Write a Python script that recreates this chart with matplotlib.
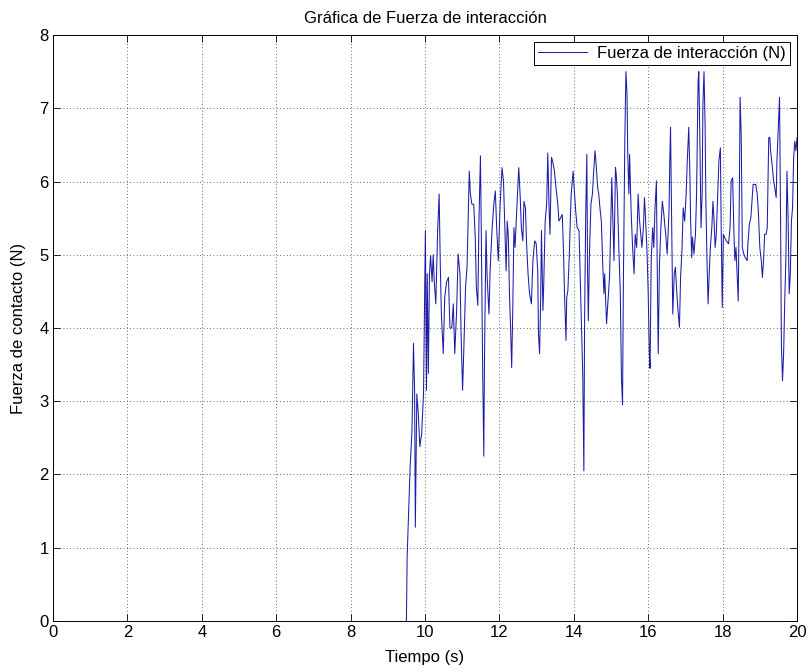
import matplotlib
matplotlib.use("Agg")
import matplotlib.pyplot as plt

plt.rcParams['font.family'] = ['Liberation Sans', 'DejaVu Sans']

# Interaction force samples: time (s) and force (N)
tiempo = [
    9.50, 9.52, 9.56, 9.60, 9.65, 9.69, 9.72, 9.74, 9.78, 9.82, 9.86, 9.91, 9.96, 9.98,
    10.01, 10.04, 10.06, 10.09, 10.12, 10.15, 10.19, 10.22, 10.25, 10.29, 10.34, 10.38,
    10.41, 10.44, 10.49, 10.53, 10.58, 10.63, 10.67,
    10.72, 10.76, 10.80, 10.85, 10.89, 10.94, 10.97, 11.01, 11.04, 11.09, 11.13, 11.16,
    11.19, 11.22, 11.26, 11.31, 11.35, 11.38, 11.42, 11.45, 11.49, 11.51, 11.55, 11.58,
    11.60, 11.64, 11.67, 11.72, 11.75, 11.80, 11.85, 11.89, 11.93, 11.97, 12.02, 12.07,
    12.11,
    12.15, 12.18, 12.21, 12.24, 12.27, 12.30, 12.33, 12.36, 12.39, 12.42, 12.46, 12.49,
    12.52, 12.56, 12.59, 12.63, 12.66, 12.70, 12.73, 12.77, 12.81, 12.86, 12.90, 12.95,
    12.99, 13.03, 13.05, 13.08, 13.11, 13.13, 13.17, 13.19, 13.23, 13.27, 13.30, 13.34,
    13.36, 13.40, 13.43, 13.48, 13.52, 13.57, 13.60,
    13.65, 13.69, 13.72, 13.75, 13.79, 13.81, 13.84, 13.88, 13.91, 13.93, 13.98, 14.05,
    14.09, 14.14, 14.18, 14.21, 14.24, 14.27, 14.29, 14.32, 14.35, 14.37, 14.39, 14.42,
    14.46, 14.50, 14.53, 14.57, 14.60, 14.64, 14.67, 14.71, 14.74, 14.78, 14.81, 14.83,
    14.86, 14.88, 14.92, 14.96, 14.99, 15.02, 15.04, 15.08, 15.12,
    15.14, 15.17, 15.21, 15.25, 15.28, 15.31, 15.33, 15.37, 15.40, 15.43, 15.45, 15.48,
    15.50, 15.54, 15.58, 15.62, 15.65, 15.69, 15.73, 15.76, 15.80, 15.83, 15.87, 15.90,
    15.94, 15.97, 16.00, 16.03, 16.05, 16.08, 16.12, 16.15, 16.18, 16.22, 16.25, 16.27,
    16.30, 16.34, 16.38, 16.42, 16.47, 16.51, 16.56, 16.58, 16.60,
    16.64, 16.66, 16.70, 16.73, 16.77, 16.80, 16.84, 16.87, 16.91, 16.94, 16.98, 17.02,
    17.05, 17.09, 17.12, 17.14, 17.17, 17.19, 17.23, 17.27, 17.30, 17.34, 17.36, 17.39,
    17.42, 17.45, 17.47, 17.50, 17.53, 17.55, 17.58, 17.61, 17.64, 17.67, 17.71, 17.74,
    17.77, 17.80, 17.83, 17.87, 17.90, 17.94, 17.96, 17.99, 18.02, 18.05, 18.10,
    18.16, 18.20, 18.23, 18.27, 18.30, 18.33, 18.36, 18.39, 18.42, 18.45, 18.47, 18.50,
    18.53, 18.57, 18.61, 18.66, 18.68, 18.72, 18.76, 18.79, 18.82, 18.86, 18.89, 18.93,
    18.96, 19.00, 19.04, 19.07, 19.10, 19.13, 19.17, 19.20, 19.24, 19.27, 19.29, 19.33,
    19.37, 19.40, 19.44, 19.46, 19.50, 19.53, 19.56, 19.58, 19.61, 19.64, 19.67, 19.70,
    19.73, 19.76, 19.79, 19.82, 19.85, 19.88, 19.91, 19.94, 19.97, 20.00,
]

fuerza = [
    0.00, 0.88, 1.47, 2.10, 2.60, 3.79, 3.15, 1.28, 3.10, 2.83, 2.38, 2.56, 3.10, 3.96,
    5.33, 3.15, 4.74, 3.38, 4.74, 4.99, 4.63, 5.00, 4.63, 4.33, 5.33, 5.83,
    4.88, 4.19, 3.65, 4.42, 4.63, 4.69, 4.00,
    4.00, 4.33, 3.65, 4.24, 5.01, 4.74, 3.92, 3.15, 3.65, 4.56, 4.83, 5.46,
    6.14, 5.83, 5.69, 5.69, 5.24, 4.56, 4.31, 5.46, 6.35, 5.46, 3.42, 2.25,
    3.65, 5.33, 4.69, 4.19, 4.78, 5.33, 5.69, 5.87, 5.33, 4.92, 5.69, 6.19,
    6.00,
    5.33, 4.78, 5.46, 5.24, 4.47, 4.01, 3.46, 4.28, 5.37, 5.10, 5.55, 5.87,
    6.19, 5.78, 5.37, 5.19, 5.73, 5.64, 5.15, 4.74, 4.47, 4.33, 4.92, 5.19,
    5.15, 4.78, 3.92, 3.65, 4.42, 5.33, 4.24, 4.56, 5.46, 5.69, 6.39, 5.55,
    5.28, 6.33, 6.28, 6.14, 5.92, 5.69, 5.46,
    5.51, 5.55, 5.10, 4.47, 3.83, 4.42, 4.51, 5.01, 5.55, 5.83, 6.14, 5.60,
    5.37, 5.33, 4.56, 4.01, 3.37, 2.05, 4.10, 5.55, 6.37, 4.78, 4.10, 5.01,
    5.69, 5.83, 6.10, 6.42, 6.24, 5.92, 5.83, 5.60, 5.46, 4.83, 4.47, 4.74,
    4.33, 4.06, 4.37, 4.69, 5.33, 6.05, 5.69, 4.92, 6.19,
    6.10, 5.83, 5.10, 4.47, 3.33, 2.95, 4.47, 6.51, 7.50, 7.20, 6.37, 5.83,
    6.37, 5.60, 5.10, 4.74, 5.28, 5.10, 5.83, 5.51, 5.28, 5.10, 5.37, 5.78,
    5.37, 5.01, 4.47, 3.65, 3.45, 4.92, 5.37, 5.10, 5.60, 6.01, 4.47, 3.65,
    4.83, 5.37, 5.73, 5.55, 5.28, 5.01, 5.60, 6.28, 6.74,
    5.01, 4.19, 4.74, 4.83, 4.47, 4.24, 4.01, 4.69, 5.10, 5.64, 5.46, 5.83,
    6.28, 6.74, 6.10, 5.46, 4.96, 5.24, 5.01, 5.28, 5.83, 7.37, 7.50, 6.51,
    5.37, 5.83, 7.05, 7.50, 6.74, 5.73, 4.92, 4.33, 4.74, 5.10, 5.37, 5.73,
    5.46, 5.10, 5.28, 5.83, 6.28, 6.46, 5.46, 4.28, 5.28, 5.24, 5.19,
    5.15, 5.37, 6.01, 6.05, 5.37, 4.92, 5.10, 4.74, 4.37, 5.83, 7.15, 6.64,
    5.10, 5.01, 4.96, 4.92, 5.15, 5.42, 5.51, 5.73, 5.96, 5.96, 5.96, 5.83,
    5.60, 5.10, 4.92, 4.69, 4.92, 5.28, 5.28, 5.37, 6.60, 6.60, 6.42, 6.23,
    6.01, 5.92, 5.78, 6.28, 6.78, 7.15, 5.37, 3.78, 3.28, 3.65, 4.37, 4.92,
    6.14, 5.51, 4.47, 4.74, 5.46, 5.64, 6.33, 6.55, 6.42, 6.60,
]

x_ticks = list(range(0, 21, 2))
y_ticks = list(range(0, 9, 1))

fig = plt.figure(figsize=(8.08, 6.72), dpi=100)
ax = fig.add_axes([0.0656, 0.0759, 0.9208, 0.872])

ax.plot(tiempo, fuerza, color='#1c1ca8', linewidth=0.75,
        label='Fuerza de interacción (N)')

ax.set_xlim(0, 20)
ax.set_ylim(0, 8)
ax.set_xticks(x_ticks)
ax.set_yticks(y_ticks)
ax.tick_params(direction='in', length=5, width=0.6, top=True, right=True,
               labelsize=12, pad=3)
ax.grid(True, linestyle=(0, (1, 3)), color='#333333', linewidth=0.6)
for s in ax.spines.values():
    s.set_linewidth(0.7)

ax.set_title('Gráfica de Fuerza de interacción', fontsize=12, pad=9)
ax.set_xlabel('Tiempo (s)', fontsize=12, labelpad=7)
ax.set_ylabel('Fuerza de contacto (N)', fontsize=12, labelpad=10)

leg = ax.legend(loc='upper right', fontsize=12, fancybox=False,
                edgecolor='black', framealpha=1, borderaxespad=0.4,
                handlelength=2.9, handletextpad=0.65, borderpad=0.25)
leg.get_frame().set_linewidth(0.7)

fig.savefig('out.png', dpi=100)
